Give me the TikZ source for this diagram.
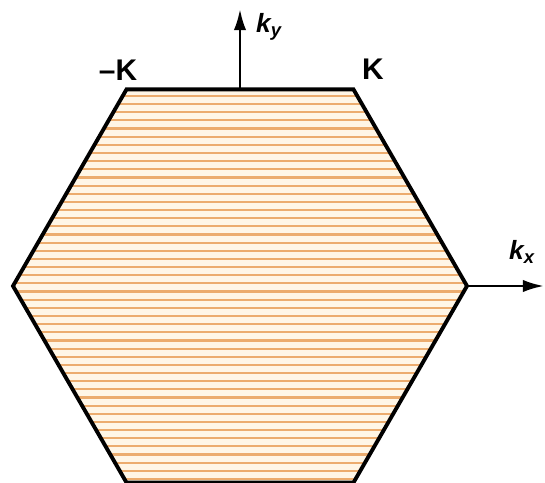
\documentclass[tikz,border=0pt]{standalone}
\usepackage{fontspec}
\setmainfont{Liberation Sans}
\usetikzlibrary{arrows.meta}
\definecolor{bzfill}{RGB}{255,246,230}
\definecolor{bzline}{RGB}{236,172,110}

\begin{document}
\begin{tikzpicture}[x=0.02cm, y=0.02cm, >={Latex[length=12pt,width=7pt]},
  font=\bfseries]
  \useasboundingbox (-240,-197) rectangle (305,286);
  % hexagon corners
  \foreach \a/\nm in {0/E,60/K,120/mK,180/W,240/SW,300/SE}
    \coordinate (\nm) at (\a:227);
  % cream fill with orange stripes
  \fill[bzfill] (E) -- (K) -- (mK) -- (W) -- (SW) -- (SE) -- cycle;
  \begin{scope}
    \clip (E) -- (K) -- (mK) -- (W) -- (SW) -- (SE) -- cycle;
    \foreach \i in {0,...,48}
      \draw[bzline, line width=1.2pt] (-240,-193+8.15*\i) -- (240,-193+8.15*\i);
  \end{scope}
  % outline
  \draw[line width=2.2pt, line join=miter] (E) -- (K) -- (mK) -- (W) -- (SW) -- (SE) -- cycle;
  % axes
  \coordinate (top) at (0,196.6);
  \coordinate (kyend) at (0,277);
  \coordinate (kxend) at (304,0);
  \draw[->, line width=1.5pt] (top) -- (kyend);
  \draw[->, line width=1.5pt] (E) -- (kxend);
  % labels
  \node[font=\fontsize{17}{20}\bfseries] (lmK) at (-122,216) {–K};
  \node[font=\fontsize{17}{20}\bfseries] (lK) at (133,217) {K};
  \node[font=\fontsize{15}{18}\bfseries\itshape] (lky) at (29,259) {k\textsubscript{y}};
  \node[font=\fontsize{15}{18}\bfseries\itshape] (lkx) at (282,34) {k\textsubscript{x}};
\end{tikzpicture}
\end{document}
